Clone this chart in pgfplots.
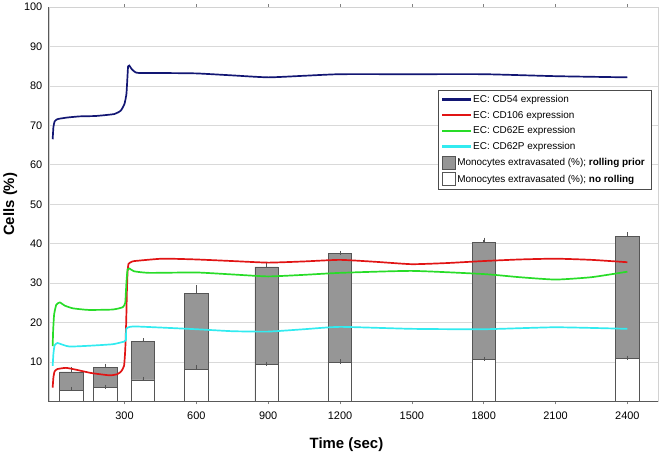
\documentclass[border=0pt]{standalone}
\usepackage{fontspec}
\setmainfont{Liberation Sans}
\usepackage{pgfplots}
\pgfplotsset{compat=1.18}
\definecolor{cdnavy}{RGB}{18,22,115}
\definecolor{cdred}{RGB}{225,20,20}
\definecolor{cdgreen}{RGB}{40,220,40}
\definecolor{cdcyan}{RGB}{50,235,240}
\definecolor{bargray}{RGB}{150,150,150}
\definecolor{baredge}{RGB}{85,85,85}
\begin{document}
\begin{tikzpicture}
\begin{axis}[
  scale only axis, width=612pt, height=396pt,
  xmin=-16, xmax=2528, ymin=0, ymax=100,
  xtick={300,600,...,2400}, ytick={10,20,...,100},
  axis line style={draw=gray!35},
  ymajorgrids, grid style={gray!30, line width=0.8pt},
  ytick style={draw=none},
  xtick style={draw=gray, line width=0.5pt}, tick align=outside, major tick length=3pt,
  ticklabel style={font=\fontsize{11}{13}\selectfont},
  xticklabel style={yshift=-4pt},
  /pgf/number format/assume math mode=true,
  /pgf/number format/set thousands separator={},
  xlabel={Time (sec)}, ylabel={Cells (\%)},
  label style={font=\fontsize{15}{18}\selectfont\bfseries},
  xlabel style={xshift=-7pt, yshift=-11pt},
  legend style={at={(0.6386,0.79)}, anchor=north west, font=\fontsize{10}{12}\selectfont, draw=black!70, row sep=3pt, inner xsep=4pt, inner ysep=3pt},
  legend cell align=left,
  legend image code/.code={\fill[#1, draw=none] (0pt,-1.1pt) rectangle (29pt,1.1pt);},
  after end axis/.code={\draw[gray!70!black, line width=0.8pt] (rel axis cs:0,1) -- (rel axis cs:0,0) -- (rel axis cs:1,0);},
]
% gray bars: rolling prior
\addplot[ybar, bar width=97, bar shift=0pt, fill=bargray, draw=baredge, line width=0.6pt, forget plot,
  error bars/.cd, y dir=plus, y explicit, error bar style={baredge, line width=0.5pt}, error mark options={baredge, mark size=2.2pt}]
  table[x=t, y=v, y error=e] {
t v e
78 7.5 0.7
220 8.7 0.3
377 15.2 0.3
600 27.4 1.5
893 34.1 0.5
1200 37.5 0.2
1800 40.3 0.7
2400 41.8 0.6
};
% white bars: no rolling
\addplot[ybar, bar width=97, bar shift=0pt, fill=white, draw=baredge, line width=0.6pt, forget plot,
  error bars/.cd, y dir=plus, y explicit, error bar style={baredge, line width=0.5pt}, error mark options={baredge, mark size=2.2pt}]
  table[x=t, y=v, y error=e] {
t v e
78 2.85 0.3
220 3.45 0.2
377 5.45 0.2
600 8.2 0.4
893 9.3 0.2
1200 9.9 0.2
1800 10.65 0.15
2400 10.8 0.2
};
\addplot[cdnavy, line width=1.7pt, smooth, tension=0.3] coordinates {
(0,66.5) (3,69.5) (8,71.0) (20,71.6) (60,72.0) (113,72.3) (180,72.4) (258,72.9) (285,73.8) (300,75.5)
(308,78) (312,82) (315,85.0) (320,85.2) (330,84.3) (345,83.5) (362,83.3) (450,83.3) (600,83.2)
(750,82.7) (900,82.2) (1050,82.6) (1200,83.0) (1500,83.0) (1800,83.0) (2100,82.5) (2400,82.2)};
\addlegendentry{EC: CD54 expression}
\addplot[cdred, line width=1.7pt, smooth, tension=0.3] coordinates {
(0,3.5) (3,6) (8,7.6) (20,8.2) (56,8.5) (100,8.0) (160,7.2) (238,6.6) (270,6.9) (286,7.6) (298,9)
(303,13) (307,20) (310,28) (313,33) (317,34.9) (330,35.4) (342,35.6) (459,36.2) (600,36.0) (750,35.6)
(900,35.2) (1050,35.5) (1200,35.9) (1350,35.4) (1500,34.8) (1650,35.1) (1800,35.6) (1950,36.0)
(2100,36.2) (2250,35.9) (2400,35.3)};
\addlegendentry{EC: CD106 expression}
\addplot[cdgreen, line width=1.7pt, smooth, tension=0.3] coordinates {
(0,14) (2,18) (6,22) (15,24.5) (30,25.1) (50,24.3) (85,23.6) (150,23.2) (251,23.3) (293,23.9)
(303,25) (306,28) (309,31) (313,33.5) (321,33.7) (340,33.0) (404,32.6) (600,32.7) (750,32.2)
(900,31.7) (1050,32.1) (1200,32.6) (1500,33.1) (1800,32.3) (1950,31.5) (2100,30.9) (2250,31.5) (2400,32.9)};
\addlegendentry{EC: CD62E expression}
\addplot[cdcyan, line width=1.7pt, smooth, tension=0.3] coordinates {
(0,9) (3,12) (8,14.2) (20,14.8) (45,14.3) (71,13.9) (150,14.1) (251,14.5) (300,15.2) (306,15.6)
(307,18.3) (312,18.7) (347,19.0) (600,18.3) (750,17.8) (900,17.7) (1050,18.3) (1200,18.9) (1500,18.4)
(1800,18.3) (2100,18.8) (2400,18.4)};
\addlegendentry{EC: CD62P expression}
\addlegendimage{legend image code/.code={\draw[fill=bargray, draw=baredge, line width=0.6pt] (0pt,-6.5pt) rectangle (13pt,6.5pt);}}
\addlegendentry{\hspace*{-16pt}Monocytes extravasated (\%); \textbf{rolling prior}}
\addlegendimage{legend image code/.code={\draw[fill=white, draw=baredge, line width=0.6pt] (0pt,-6.5pt) rectangle (13pt,6.5pt);}}
\addlegendentry{\hspace*{-16pt}Monocytes extravasated (\%); \textbf{no rolling}}
\end{axis}
\end{tikzpicture}
\end{document}
